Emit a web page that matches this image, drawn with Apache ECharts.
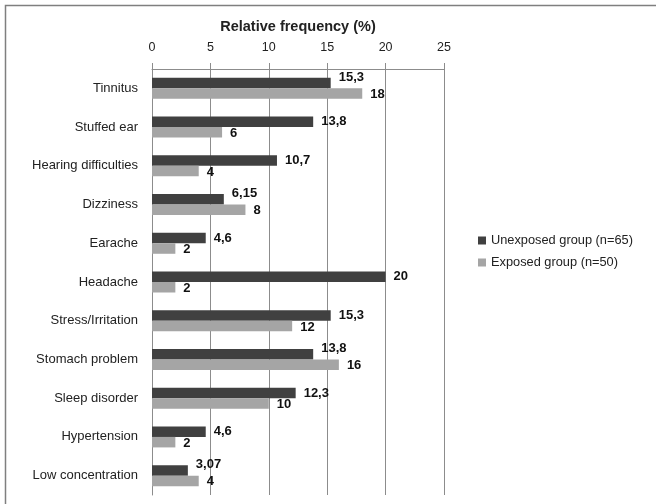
<!DOCTYPE html>
<html>
<head>
<meta charset="utf-8">
<script src="https://cdn.jsdelivr.net/npm/echarts@6/dist/echarts.min.js"></script>
<style>
html,body{margin:0;padding:0;background:#fff;}
#chart{width:656px;height:504px;}
</style>
</head>
<body>
<div id="chart"></div>
<script>
const categories = ["Tinnitus","Stuffed ear","Hearing difficulties","Dizziness","Earache","Headache","Stress/Irritation","Stomach problem","Sleep disorder","Hypertension","Low concentration"];
const unexposed = [15.3, 13.8, 10.7, 6.15, 4.6, 20, 15.3, 13.8, 12.3, 4.6, 3.07];
const exposed = [18, 6, 4, 8, 2, 2, 12, 16, 10, 2, 4];
const seriesNames = ["Unexposed group (n=65)", "Exposed group (n=50)"];
const xTicks = {min: 0, max: 25, interval: 5};

const chart = echarts.init(document.getElementById('chart'));
const fmt = p => String(p.value).replace('.', ',');
const font = 'Liberation Sans, Arial, sans-serif';
// Dark labels are lifted when the light bar below is longer (avoids overlap)
const unexposedData = unexposed.map((v, i) => ({
  value: v,
  label: {offset: exposed[i] > v ? [3, -6] : [3, 0]}
}));
chart.setOption({
  animation: false,
  graphic: [{
    type: 'rect', shape: {x: 5.5, y: 5.5, width: 800, height: 800},
    style: {fill: 'none', stroke: '#7f7f7f', lineWidth: 1.5}, silent: true
  }],
  grid: {left: 152, right: 212, top: 69, bottom: 9},
  legend: {
    orient: 'vertical', left: 473, top: 229, itemWidth: 8, itemHeight: 8, itemGap: 9,
    icon: 'rect',
    textStyle: {fontFamily: font, fontSize: 12.8, color: '#222'},
    data: seriesNames
  },
  xAxis: {
    type: 'value', position: 'top', min: xTicks.min, max: xTicks.max, interval: xTicks.interval,
    name: 'Relative frequency (%)', nameLocation: 'middle', nameGap: 35,
    nameTextStyle: {fontFamily: font, fontSize: 14.5, fontWeight: 'bold', color: '#222'},
    axisLine: {show: true, lineStyle: {color: '#8c8c8c', width: 1}},
    axisTick: {show: true, length: 6, lineStyle: {color: '#8c8c8c'}},
    axisLabel: {fontFamily: font, fontSize: 12.5, color: '#222', margin: 15},
    splitLine: {show: true, lineStyle: {color: '#8c8c8c', width: 1}}
  },
  yAxis: {
    type: 'category', data: categories, inverse: true,
    axisLine: {show: true, lineStyle: {color: '#8c8c8c'}},
    axisTick: {show: false},
    axisLabel: {fontFamily: font, fontSize: 13, color: '#222', margin: 14}
  },
  series: [{
    name: seriesNames[0], type: 'bar', data: unexposedData, barWidth: 10.5, barGap: '0%',
    itemStyle: {color: '#404040'},
    label: {show: true, position: 'right', formatter: fmt,
      fontFamily: font, fontWeight: 'bold', fontSize: 13, color: '#111'}
  }, {
    name: seriesNames[1], type: 'bar', data: exposed, barWidth: 10.5, barGap: '0%',
    itemStyle: {color: '#a5a5a5'},
    label: {show: true, position: 'right', offset: [3, 1], formatter: fmt,
      fontFamily: font, fontWeight: 'bold', fontSize: 13, color: '#111'}
  }]
});
</script>
</body>
</html>
